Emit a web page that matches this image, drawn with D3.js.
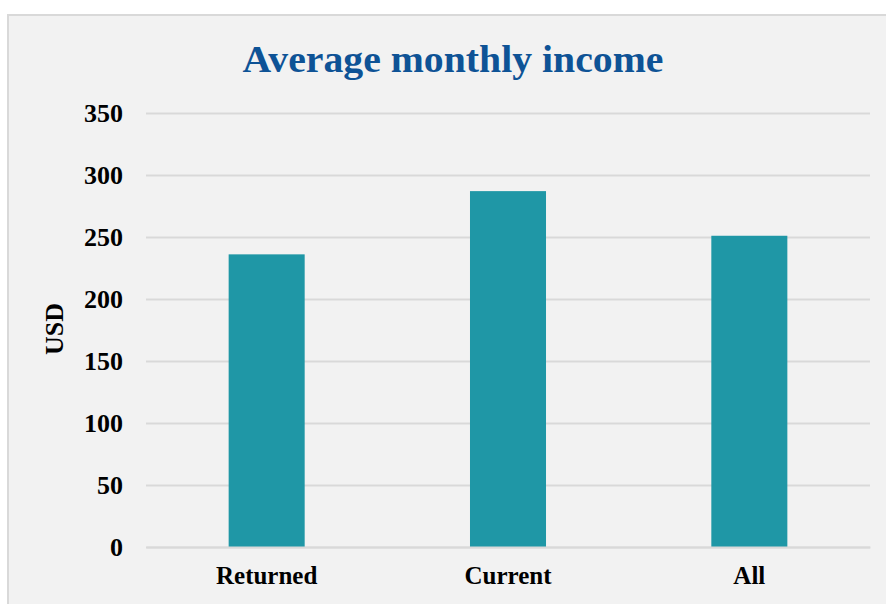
<!DOCTYPE html>
<html>
<head>
<meta charset="utf-8">
<script src="https://cdn.jsdelivr.net/npm/d3@7"></script>
<style>
  html, body { margin: 0; padding: 0; background: #fff; }
  svg { display: block; }
</style>
</head>
<body>
<div id="chart"></div>
<script>
var categories = ["Returned", "Current", "All"],
    values = [236, 287, 251],
    yTicks = [0, 50, 100, 150, 200, 250, 300, 350];

var width = 886,
    height = 604,
    margin = {top: 113, right: 16, bottom: 57, left: 146};

var svg = d3.select("#chart").append("svg")
    .attr("width", width)
    .attr("height", height);

// chart area box (runs past the window on the right and bottom)
svg.append("rect")
    .attr("x", 8).attr("y", 15)
    .attr("width", 900).attr("height", 620)
    .attr("fill", "#f2f2f2")
    .attr("stroke", "#d9d9d9")
    .attr("stroke-width", 2);

var x = d3.scaleBand()
    .domain(categories)
    .range([margin.left, width - margin.right])
    .paddingInner(0.685)
    .paddingOuter(0.3425);

var y = d3.scaleLinear()
    .domain([0, 350])
    .range([height - margin.bottom, margin.top]);

var font = "'Liberation Serif', 'Times New Roman', serif";

// gridlines + y labels
var yAxis = d3.axisLeft(y)
    .tickValues(yTicks)
    .tickSize(-(width - margin.right - margin.left))
    .tickPadding(23);

var gy = svg.append("g")
    .attr("transform", "translate(" + margin.left + ",0)")
    .call(yAxis);
gy.select(".domain").remove();
gy.selectAll(".tick line")
    .attr("stroke", "#d9d9d9")
    .attr("stroke-width", 2);
gy.selectAll(".tick text")
    .attr("font-family", font)
    .attr("font-weight", "bold")
    .attr("font-size", 26)
    .attr("fill", "#000");

// bars
svg.append("g").selectAll("rect")
    .data(values)
  .enter().append("rect")
    .attr("x", function(d, i) { return x(categories[i]); })
    .attr("y", function(d) { return y(d); })
    .attr("width", x.bandwidth())
    .attr("height", function(d) { return y(0) - y(d); })
    .attr("fill", "#1f97a6");

// x axis labels
var xAxis = d3.axisBottom(x).tickSize(0).tickPadding(19);
var gx = svg.append("g")
    .attr("transform", "translate(0," + y(0) + ")")
    .call(xAxis);
gx.select(".domain")
    .attr("stroke", "#d9d9d9")
    .attr("stroke-width", 2);
gx.selectAll(".tick text")
    .attr("font-family", font)
    .attr("font-weight", "bold")
    .attr("font-size", 25)
    .attr("fill", "#000");

// title
svg.append("text")
    .attr("x", 453)
    .attr("y", 72)
    .attr("text-anchor", "middle")
    .attr("font-family", font)
    .attr("font-weight", "bold")
    .attr("font-size", 37)
    .attr("fill", "#0e5396")
    .attr("textLength", 421)
    .attr("lengthAdjust", "spacingAndGlyphs")
    .text("Average monthly income");

// y axis title
svg.append("text")
    .attr("transform", "translate(63,329) rotate(-90)")
    .attr("text-anchor", "middle")
    .attr("font-family", font)
    .attr("font-weight", "bold")
    .attr("font-size", 26)
    .attr("fill", "#000")
    .text("USD");
</script>
</body>
</html>
